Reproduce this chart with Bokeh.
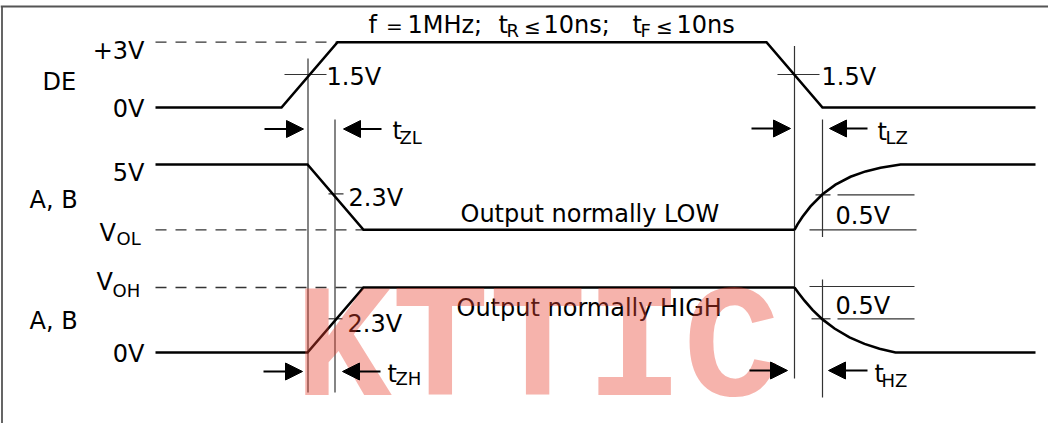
from bokeh.plotting import figure
from bokeh.models import Range1d, Arrow, NormalHead, ColumnDataSource
from bokeh.core.properties import value
from bokeh.embed import file_html
from bokeh.resources import INLINE

# ---------------- data (diagram coordinates, px) ----------------
# DE input waveform
de_x = [155, 281, 337, 766, 822, 1035]
de_y = [107, 107, 41.7, 41.7, 107, 107]

# A,B output normally LOW
low_x = [155, 307, 363, 794]
low_y = [164, 164, 229.3, 229.3]
low_rec_x = [794, 797, 802, 810, 822, 835, 850, 865, 880, 900, 1035]
low_rec_y = [229.3, 223.9, 216.3, 205.9, 193.8, 184.2, 176.3, 170.9, 167.2, 164, 164]

# A,B output normally HIGH
high_x = [155, 307, 363, 794]
high_y = [352, 352, 287, 287]
high_rec_x = [794, 798, 804, 812, 822, 834, 849, 864, 879, 895, 1035]
high_rec_y = [287, 292.4, 300.2, 309.4, 318.9, 328.0, 336.9, 343.4, 348.3, 352, 352]

# dashed reference levels (+3V, VOL, VOH)
dash_x0 = [155, 155, 155]
dash_x1 = [337, 363, 363]
dash_y = [41.7, 229.3, 287]

# thin vertical timing markers
vert_x = [307.5, 334.5, 794, 822, 822]
vert_y0 = [58, 119, 45.5, 119, 279]
vert_y1 = [392, 392, 378, 236.5, 397]

# thin horizontal threshold ticks
tick_x0 = [284, 777, 328, 328, 815, 837, 809, 809, 811, 837]
tick_x1 = [326, 819, 343, 342, 830, 914, 916, 914, 830, 914]
tick_y = [74, 74, 193.3, 318.3, 194.3, 194.3, 229.3, 286, 318.3, 318.3]

# timing arrows
arr_x0 = [264, 381, 751, 867, 263, 380, 749, 867]
arr_x1 = [303, 343, 790, 829, 302, 342, 787, 828]
arr_y = [128.5, 128.5, 128, 128, 371, 371, 370, 370]

# main labels (left aligned, y = baseline)
lab_text = ["DE", "A, B", "A, B", "V", "V", "1.5V", "1.5V", "2.3V", "2.3V",
            "0.5V", "0.5V", "Output normally LOW", "Output normally HIGH",
            "t", "t", "t", "t",
            "f", "1MHz;", "t", "10ns;", "t", "10ns"]
lab_x = [42, 29, 29, 99, 96, 326, 821, 348, 347,
         835, 835, 460, 456,
         392, 387, 877, 874,
         368, 407, 498, 543, 632, 676]
lab_y = [88, 206, 327, 239, 288, 83, 83, 204, 330,
         222, 312, 220, 314,
         137, 380, 138, 380,
         31, 31, 31, 31, 31, 31]

# right aligned level labels
rlab_text = ["+3V", "0V", "5V", "0V"]
rlab_x = [144, 144, 144, 144]
rlab_y = [57, 115, 179, 360]

# subscripts
sub_text = ["OL", "OH", "ZL", "ZH", "LZ", "HZ", "R", "F"]
sub_x = [116, 112, 399, 395, 885, 881, 506, 640]
sub_y = [243, 295, 142, 383, 142, 385, 35, 35]

# centred symbols in title
sym_text = ["=", "\u2264", "\u2264"]
sym_x = [394, 532, 664]
sym_y = [31, 32, 32]

# watermark
wm_text = ["KTTIC"]
wm_x = [537]
wm_y = [398]

# ---------------- figure ----------------
p = figure(width=1048, height=423, x_range=Range1d(0, 1048), y_range=Range1d(423, 0),
           output_backend="svg", toolbar_location=None, min_border=0,
           x_axis_location=None, y_axis_location=None)
p.grid.visible = False
p.outline_line_color = None
p.background_fill_color = "white"
p.border_fill_color = "white"

FONT = value("DejaVu Sans")

# frame (top and left)
p.segment(x0=[0, 1.5], y0=[6, 6], x1=[1048, 1.5], y1=[6, 423],
          line_color="#555555", line_width=1.8)

# dashed levels
p.segment(x0=dash_x0, y0=dash_y, x1=dash_x1, y1=dash_y,
          line_color="#333333", line_width=1.3, line_dash="11 9")

# thin markers
p.segment(x0=vert_x, y0=vert_y0, x1=vert_x, y1=vert_y1, line_color="#333333", line_width=1.2)
p.segment(x0=tick_x0, y0=tick_y, x1=tick_x1, y1=tick_y, line_color="#333333", line_width=1.2)

# waveforms
for xs, ys in [(de_x, de_y), (low_x, low_y), (low_rec_x, low_rec_y),
               (high_x, high_y), (high_rec_x, high_rec_y)]:
    p.line(xs, ys, line_color="black", line_width=2.6, line_join="miter")

# arrows
asrc = ColumnDataSource(dict(x0=arr_x0, x1=arr_x1, y=arr_y))
p.add_layout(Arrow(end=NormalHead(size=17, fill_color="black", line_color="black", line_width=1),
                   x_start="x0", y_start="y", x_end="x1", y_end="y", source=asrc,
                   line_color="black", line_width=2))

# texts
p.text(x=lab_x, y=lab_y, text=lab_text, text_font=FONT, text_font_size="24px",
       text_color="black", text_baseline="alphabetic", text_align="left", y_offset=-7)
p.text(x=rlab_x, y=rlab_y, text=rlab_text, text_font=FONT, text_font_size="24px",
       text_color="black", text_baseline="alphabetic", text_align="right", y_offset=-7)
p.text(x=sub_x, y=sub_y, text=sub_text, text_font=FONT, text_font_size="18px",
       text_color="black", text_baseline="alphabetic", text_align="left", y_offset=-5)
p.text(x=sym_x, y=sym_y, text=sym_text, text_font=FONT, text_font_size="20px",
       text_color="black", text_baseline="alphabetic", text_align="center", y_offset=-6)

# watermark
p.text(x=wm_x, y=wm_y, text=wm_text, text_font=value("Liberation Mono"), text_font_style="bold",
       text_font_size="162px", text_color="#e8402f", text_alpha=0.4,
       text_baseline="alphabetic", text_align="center", y_offset=-47)

open("out.html", "w").write(file_html(p, INLINE))
